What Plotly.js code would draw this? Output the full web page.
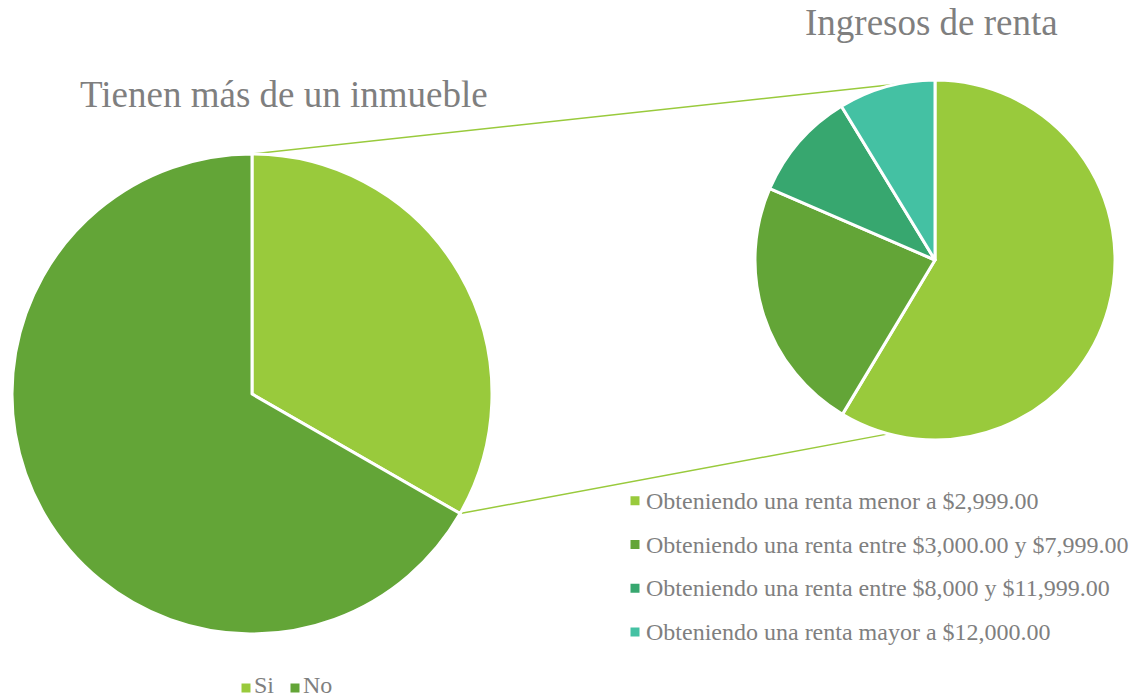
<!DOCTYPE html>
<html><head><meta charset="utf-8">
<script src="https://cdn.plot.ly/plotly-3.0.1.min.js"></script>
<style>html,body{margin:0;padding:0;background:#fff}#chart{width:1143px;height:698px}</style>
</head><body><div id="chart"></div>
<script>
const leftTitle = 'Tienen más de un inmueble';
const leftLabels = ['Si', 'No'];
const leftValues = [33.3, 66.7];
const rightTitle = 'Ingresos de renta';
const rightLabels = [
  'Obteniendo una renta menor a $2,999.00',
  'Obteniendo una renta entre $3,000.00 y $7,999.00',
  'Obteniendo una renta entre $8,000 y $11,999.00',
  'Obteniendo una renta mayor a $12,000.00'
];
const rightValues = [58.6, 22.9, 9.8, 8.7];
const leftColors = ['#99CA3C', '#63A537'];
const rightColors = ['#99CA3C', '#63A537', '#37A76F', '#44C1A3'];

const W = 1143, H = 698;
const FONT = "'Liberation Serif', 'Times New Roman', serif";
const TXT = '#7F7F7F';
// pie geometry (pixels)
const L = {cx: 252, cy: 394, r: 240};
const R = {cx: 935, cy: 260, r: 180};
const connectorAngle = 195; // degrees, where the lower connector meets the small pie
function dom(g) { return {x: [(g.cx - g.r) / W, (g.cx + g.r) / W], y: [1 - (g.cy + g.r) / H, 1 - (g.cy - g.r) / H]}; }
function pt(g, deg) { const a = deg * Math.PI / 180; return [(g.cx + g.r * Math.sin(a)) / W, 1 - (g.cy - g.r * Math.cos(a)) / H]; }

const leftSum = leftValues.reduce((a, b) => a + b, 0);
const siEnd = 360 * leftValues[0] / leftSum;
const p1 = pt(L, 0), p2 = pt(R, 0), p3 = pt(L, siEnd), p4 = pt(R, connectorAngle);

const traces = [
  {
    type: 'pie', labels: leftLabels, values: leftValues, sort: false, direction: 'clockwise', rotation: 0,
    marker: {colors: leftColors, line: {color: '#FFFFFF', width: 3}},
    textinfo: 'none', hoverinfo: 'label+percent', domain: dom(L), legend: 'legend'
  },
  {
    type: 'pie', labels: rightLabels.map(t => '<span style="font-size:24px">' + t + '</span>'), values: rightValues,
    sort: false, direction: 'clockwise', rotation: 0,
    marker: {colors: rightColors, line: {color: '#FFFFFF', width: 3}},
    textinfo: 'none', hoverinfo: 'percent', domain: dom(R), legend: 'legend2'
  }
];

const layout = {
  width: W, height: H,
  margin: {l: 0, r: 0, t: 0, b: 0, autoexpand: false},
  paper_bgcolor: '#FFFFFF',
  font: {family: FONT, color: TXT},
  showlegend: true,
  legend: {orientation: 'h', x: 275 / W, xanchor: 'center', y: 1 - 666 / H, yanchor: 'top', entrywidth: 4,
           font: {family: FONT, size: 24, color: TXT}, bgcolor: 'rgba(0,0,0,0)'},
  legend2: {orientation: 'v', x: 615 / W, xanchor: 'left', y: 1 - 474 / H, yanchor: 'top',
            font: {family: FONT, size: 31.3, color: TXT}, bgcolor: 'rgba(0,0,0,0)'},
  annotations: [
    {text: leftTitle, x: 284 / W, y: 1 - 94.5 / H, xref: 'paper', yref: 'paper', xanchor: 'center', yanchor: 'middle',
     showarrow: false, font: {family: FONT, size: 37, color: TXT}},
    {text: rightTitle, x: 931 / W, y: 1 - 22.5 / H, xref: 'paper', yref: 'paper', xanchor: 'center', yanchor: 'middle',
     showarrow: false, font: {family: FONT, size: 37, color: TXT}}
  ],
  shapes: [
    {type: 'line', xref: 'paper', yref: 'paper', x0: p1[0], y0: p1[1], x1: p2[0], y1: p2[1], layer: 'below',
     line: {color: '#99CA3C', width: 1.5}},
    {type: 'line', xref: 'paper', yref: 'paper', x0: p3[0], y0: p3[1], x1: p4[0], y1: p4[1], layer: 'below',
     line: {color: '#99CA3C', width: 1.5}}
  ]
};

// tighten gap between legend swatch and its text, as in the reference (idempotent)
function tightenLegends() {
  document.querySelectorAll('.infolayer [clip-path]').forEach(function (el) { el.removeAttribute('clip-path'); });
  document.querySelectorAll('text.legendtext, text.legend2text').forEach(function (t) {
    const isRight = t.classList.contains('legend2text') || (t.textContent || '').indexOf('Obteniendo') >= 0;
    const x = isRight ? 31 : 28;
    const y = isRight ? 8.2 : 4.4;
    t.setAttribute('x', x); t.setAttribute('y', y);
    t.querySelectorAll('tspan').forEach(function (s) {
      if (s.hasAttribute('x')) s.setAttribute('x', x);
      if (s.hasAttribute('y')) s.setAttribute('y', y);
    });
  });
}
Plotly.newPlot('chart', traces, layout, {displayModeBar: false, staticPlot: true}).then(function () {
  try { tightenLegends(); } catch (e) {}
  requestAnimationFrame(function () { try { tightenLegends(); } catch (e) {} });
  setTimeout(function () { try { tightenLegends(); } catch (e) {} }, 50);
});
</script>
</body></html>
